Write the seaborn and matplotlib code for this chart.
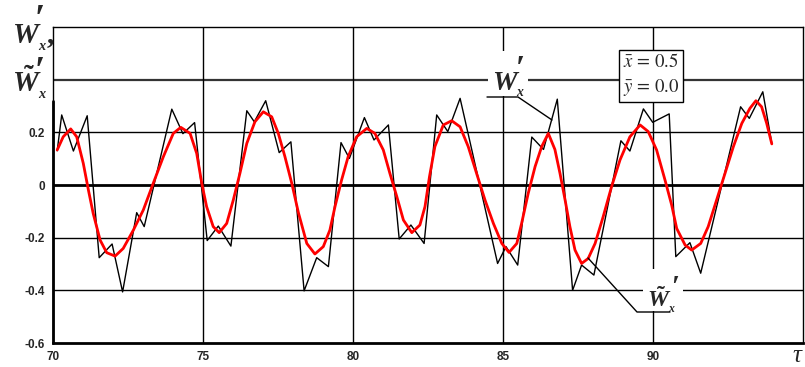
import numpy as np
import pandas as pd
import seaborn as sns
import matplotlib.pyplot as plt
from matplotlib.patches import Rectangle

# black curve W'_x (raw)
t_raw = [70.14, 70.29, 70.68, 71.14, 71.54, 71.97, 72.32, 72.79, 73.04, 73.96,
         74.33, 74.72, 75.14, 75.51, 75.93, 76.46, 76.71, 77.09, 77.54, 77.93,
         78.37, 78.79, 79.18, 79.60, 79.88, 80.38, 80.70, 81.18, 81.54, 81.93,
         82.37, 82.79, 83.16, 83.57, 84.82, 85.10, 85.49, 85.96, 86.35, 86.81,
         87.32, 87.62, 88.03, 88.93, 89.23, 89.68, 89.99, 90.54, 90.76, 91.23,
         91.59, 92.92, 93.21, 93.66, 93.96]
w_raw = [0.130, 0.266, 0.129, 0.263, -0.276, -0.224, -0.406, -0.105, -0.158, 0.288,
         0.195, 0.237, -0.211, -0.156, -0.232, 0.282, 0.240, 0.320, 0.123, 0.164,
         -0.402, -0.276, -0.310, 0.161, 0.101, 0.256, 0.171, 0.228, -0.205, -0.152,
         -0.222, 0.266, 0.203, 0.329, -0.298, -0.234, -0.304, 0.182, 0.135, 0.326,
         -0.400, -0.304, -0.342, 0.168, 0.129, 0.289, 0.238, 0.270, -0.272, -0.219,
         -0.335, 0.297, 0.253, 0.354, 0.158]

# red curve (smoothed)
t_smooth = [70.14, 70.34, 70.59, 70.79, 71.01, 71.18, 71.34, 71.57, 71.79, 72.07,
            72.34, 72.68, 73.01, 73.34, 73.68, 74.01, 74.26, 74.57, 74.79, 74.96,
            75.12, 75.34, 75.54, 75.79, 76.01, 76.23, 76.46, 76.73, 77.01, 77.29,
            77.51, 77.73, 77.96, 78.18, 78.46, 78.73, 79.01, 79.23, 79.40, 79.62,
            79.84, 80.12, 80.46, 80.73, 81.01, 81.23, 81.46, 81.68, 81.96, 82.23,
            82.40, 82.55, 82.73, 83.01, 83.29, 83.57, 83.84, 84.12, 84.40, 84.68,
            84.96, 85.20, 85.46, 85.62, 85.84, 86.07, 86.29, 86.51, 86.73, 86.90,
            87.07, 87.23, 87.40, 87.62, 87.84, 88.07, 88.34, 88.62, 88.90, 89.23,
            89.57, 89.84, 90.12, 90.40, 90.62, 90.79, 91.07, 91.29, 91.59, 91.84,
            92.12, 92.40, 92.68, 92.96, 93.23, 93.43, 93.62, 93.79, 93.96]
w_smooth = [0.133, 0.183, 0.213, 0.183, 0.082, -0.019, -0.108, -0.209, -0.257, -0.270,
            -0.241, -0.171, -0.095, 0.006, 0.108, 0.196, 0.219, 0.196, 0.120, 0.006,
            -0.082, -0.158, -0.181, -0.146, -0.057, 0.044, 0.158, 0.240, 0.278, 0.259,
            0.196, 0.108, 0.006, -0.105, -0.222, -0.262, -0.234, -0.171, -0.082, 0.019,
            0.108, 0.183, 0.215, 0.196, 0.133, 0.044, -0.044, -0.133, -0.181, -0.152,
            -0.082, 0.032, 0.146, 0.228, 0.244, 0.221, 0.146, 0.044, -0.057, -0.146,
            -0.222, -0.256, -0.222, -0.146, -0.032, 0.070, 0.146, 0.196, 0.135, 0.044,
            -0.057, -0.158, -0.247, -0.298, -0.279, -0.222, -0.120, -0.006, 0.095, 0.183,
            0.228, 0.203, 0.133, 0.019, -0.075, -0.165, -0.228, -0.247, -0.222, -0.158,
            -0.057, 0.044, 0.146, 0.234, 0.291, 0.320, 0.297, 0.234, 0.156]

x_ticks = [70, 75, 80, 85, 90, 95]
x_labels = ['70', '75', '80', '85', '90', '']
y_ticks = [-0.6, -0.4, -0.2, 0, 0.2, 0.4, 0.6]
y_labels = ['-0.6', '-0.4', '-0.2', '0', '0.2', '', '']

sns.set_style('white')
plt.rcParams['mathtext.fontset'] = 'stix'
# bold italic Times-like letters for the W labels (used through math_fontfamily='custom')
plt.rcParams['mathtext.it'] = 'Liberation Serif:italic:bold'
plt.rcParams['mathtext.rm'] = 'Liberation Serif:bold'
plt.rcParams['mathtext.bf'] = 'Liberation Serif:bold'
plt.rcParams['mathtext.fallback'] = 'stix'

W, H = 805, 367
fig = plt.figure(figsize=(W / 100, H / 100), dpi=100)
ax = fig.add_axes([53 / W, 1 - 343 / H, 750 / W, 316 / H])


def fx(px):
    return px / W


def fy(py):
    return 1 - py / H


# grid
for yv in y_ticks[1:-1]:
    if yv == 0:
        ax.axhline(yv, color='black', lw=2.0, zorder=1)
    elif yv == 0.4:
        ax.axhline(yv, color='#333333', lw=1.6, zorder=1)
    else:
        ax.axhline(yv, color='black', lw=1.0, zorder=1)
for xv in x_ticks[1:-1]:
    ax.axvline(xv, color='black', lw=1.0, zorder=1)

raw = pd.DataFrame({'t': t_raw, 'w': w_raw})
smooth = pd.DataFrame({'t': t_smooth, 'w': w_smooth})
sns.lineplot(data=raw, x='t', y='w', color='black', lw=1.0, estimator=None, ax=ax, zorder=3)
sns.lineplot(data=smooth, x='t', y='w', color='red', lw=2.0, estimator=None, ax=ax, zorder=4)

ax.set_xlim(70, 95)
ax.set_ylim(-0.6, 0.6)
ax.set_xticks(x_ticks)
ax.set_xticklabels(x_labels)
ax.set_yticks(y_ticks)
ax.set_yticklabels(y_labels)
ax.set_xlabel('')
ax.set_ylabel('')
ax.tick_params(length=0, pad=6)
for lab in ax.get_xticklabels() + ax.get_yticklabels():
    lab.set_fontfamily('Liberation Sans')
    lab.set_fontweight('bold')
    lab.set_fontsize(8.5)
for side in ['top', 'right', 'left']:
    ax.spines[side].set_linewidth(1.0)
    ax.spines[side].set_color('black')
ax.spines['bottom'].set_linewidth(2.0)
ax.spines['bottom'].set_color('black')
ax.axvline(70, ymin=0, ymax=(0.32 + 0.6) / 1.2, color='black', lw=2.0, zorder=5, clip_on=False)


def wlabel(target, x, y, size, tilde=False, suffix='', pdx=23, ptop=40, psize=26):
    # x = left edge of W, y = baseline, in pixels from the top-left corner
    s = "$\\tilde{W}_{_x}$" if tilde else "$W_{_x}$"
    target.text(fx(x), fy(y), s + suffix, fontsize=size, math_fontfamily='custom',
                family='Liberation Serif', weight='bold', transform=fig.transFigure,
                ha='left', va='baseline', zorder=6)
    target.text(fx(x + pdx), fy(y - ptop), '\u2032', fontsize=psize,
                family=['Liberation Serif', 'DejaVu Serif'], weight='bold',
                transform=fig.transFigure, ha='left', va='top', zorder=6)


# y axis label (two lines, stacked at the top left)
wlabel(fig, 12, 44, 21, suffix=',', pdx=23, ptop=41, psize=27)
wlabel(fig, 12, 92, 21, tilde=True, pdx=23, ptop=37, psize=27)

# white gaps behind the curve labels
ax.add_patch(Rectangle((fx(488), fy(96)), 40 / W, 45 / H, transform=fig.transFigure,
                       facecolor='white', edgecolor='none', zorder=2))
ax.add_patch(Rectangle((fx(643), fy(311)), 40 / W, 42 / H, transform=fig.transFigure,
                       facecolor='white', edgecolor='none', zorder=2))

wlabel(ax, 492, 90, 20, pdx=24, ptop=36, psize=24)
wlabel(ax, 647, 307, 17, tilde=True, pdx=24, ptop=33, psize=21)

# leader lines
ax.plot([fx(487), fx(518), fx(552)], [fy(97), fy(97), fy(120)], color='black', lw=1.0,
        transform=fig.transFigure, zorder=6)
ax.plot([fx(670), fx(637), fx(588)], [fy(312), fy(312), fy(258)], color='black', lw=1.0,
        transform=fig.transFigure, zorder=6)

# parameter box
ax.text(fx(651), fy(75), '$\\bar{x}\\,=\\,0.5$\n$\\bar{y}\\,=\\,0.0$', transform=fig.transFigure,
        fontsize=13.5, ha='center', va='center', linespacing=1.4, zorder=7,
        bbox=dict(boxstyle='square,pad=0.2', facecolor='white', edgecolor='black', lw=1.0))

# tau
fig.text(fx(797), fy(362), '\u03c4', family=['Liberation Serif', 'DejaVu Serif'], style='italic',
         fontsize=18, ha='center', va='baseline')

fig.savefig('out.png', dpi=100)
